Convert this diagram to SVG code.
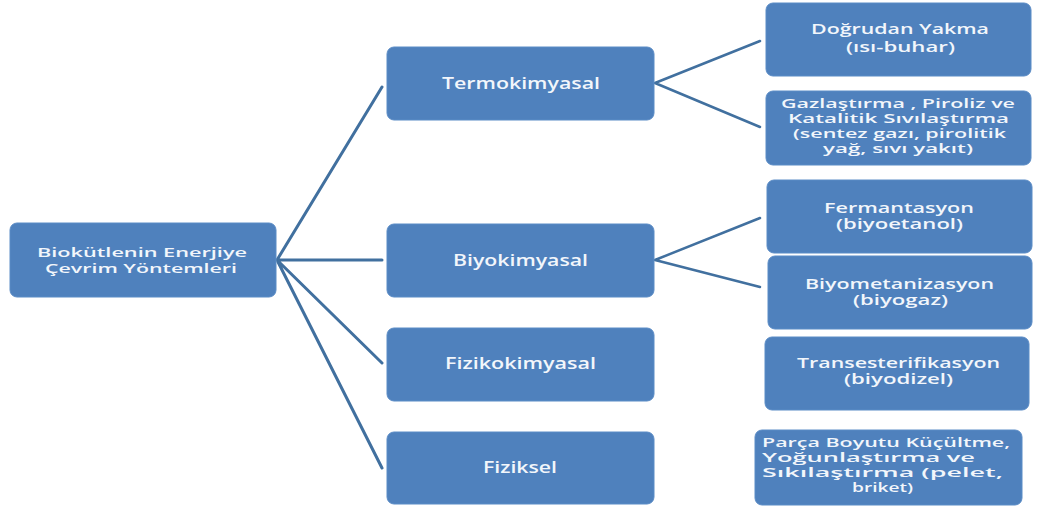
<svg xmlns="http://www.w3.org/2000/svg" width="1038" height="506" viewBox="0 0 1038 506">
<style>
.box{fill:#4F81BD;stroke:#5B8CC6;stroke-width:1}
.t{font-family:"Open Sans","Liberation Sans",sans-serif;font-weight:600;fill:#F2F6FB;font-size:14.5px}
.m{font-size:16px}
.s{font-size:13px}
.c{fill:none;stroke:#41709F;stroke-linecap:round}
</style>
<rect width="1038" height="506" fill="#FFFFFF"/>
<g id="connectors">
<path class="c" stroke-width="3" d="M277,260 L382,87 M277,260 L382,260 M277,260 L382,363 M277,260 L382,468"/>
<path class="c" stroke-width="2.5" d="M655,83 L760,41 M655,83 L760,127 M655,260 L760,218 M655,260 L760,287"/>
</g>
<g id="root">
<rect class="box" x="10" y="223" width="266" height="74" rx="7"/>
<text class="t s" x="37" y="257" textLength="210" lengthAdjust="spacingAndGlyphs">Biokütlenin Enerjiye</text>
<text class="t s" x="45" y="273" textLength="192" lengthAdjust="spacingAndGlyphs">Çevrim Yöntemleri</text>
</g>
<g id="termokimyasal">
<rect class="box" x="387" y="47" width="267" height="73" rx="7"/>
<text class="t m" x="442" y="89" textLength="158" lengthAdjust="spacingAndGlyphs">Termokimyasal</text>
</g>
<g id="biyokimyasal">
<rect class="box" x="387" y="224" width="267" height="73" rx="7"/>
<text class="t m" x="453" y="266" textLength="135" lengthAdjust="spacingAndGlyphs">Biyokimyasal</text>
</g>
<g id="fizikokimyasal">
<rect class="box" x="387" y="328" width="267" height="73" rx="7"/>
<text class="t m" x="445" y="369" textLength="151" lengthAdjust="spacingAndGlyphs">Fizikokimyasal</text>
</g>
<g id="fiziksel">
<rect class="box" x="387" y="432" width="267" height="72" rx="7"/>
<text class="t m" x="483" y="473" textLength="74" lengthAdjust="spacingAndGlyphs">Fiziksel</text>
</g>
<g id="dogrudan">
<rect class="box" x="766" y="3" width="265" height="73" rx="7"/>
<text class="t" x="811" y="34" textLength="178" lengthAdjust="spacingAndGlyphs">Doğrudan Yakma</text>
<text class="t" x="846" y="52" textLength="109" lengthAdjust="spacingAndGlyphs">(ısı-buhar)</text>
</g>
<g id="gazlastirma">
<rect class="box" x="766" y="91" width="265" height="74" rx="7"/>
<text class="t s" x="781" y="108" textLength="234" lengthAdjust="spacingAndGlyphs">Gazlaştırma , Piroliz ve</text>
<text class="t s" x="788" y="123" textLength="221" lengthAdjust="spacingAndGlyphs">Katalitik Sıvılaştırma</text>
<text class="t s" x="793" y="138" textLength="213" lengthAdjust="spacingAndGlyphs">(sentez gazı, pirolitik</text>
<text class="t s" x="823" y="153" textLength="150" lengthAdjust="spacingAndGlyphs">yağ, sıvı yakıt)</text>
</g>
<g id="fermantasyon">
<rect class="box" x="767" y="180" width="265" height="73" rx="7"/>
<text class="t" x="824" y="213" textLength="150" lengthAdjust="spacingAndGlyphs">Fermantasyon</text>
<text class="t" x="836" y="229" textLength="127" lengthAdjust="spacingAndGlyphs">(biyoetanol)</text>
</g>
<g id="biyometanizasyon">
<rect class="box" x="768" y="256" width="264" height="73" rx="7"/>
<text class="t" x="805" y="289" textLength="189" lengthAdjust="spacingAndGlyphs">Biyometanizasyon</text>
<text class="t" x="853" y="305" textLength="95" lengthAdjust="spacingAndGlyphs">(biyogaz)</text>
</g>
<g id="transesterifikasyon">
<rect class="box" x="765" y="337" width="264" height="73" rx="7"/>
<text class="t" x="797" y="368" textLength="203" lengthAdjust="spacingAndGlyphs">Transesterifikasyon</text>
<text class="t" x="844" y="384" textLength="109" lengthAdjust="spacingAndGlyphs">(biyodizel)</text>
</g>
<g id="parca">
<rect class="box" x="755" y="430" width="267" height="75" rx="7"/>
<text class="t s" x="762" y="447" textLength="248" lengthAdjust="spacingAndGlyphs">Parça Boyutu Küçültme,</text>
<text class="t s" x="762" y="462" textLength="213" lengthAdjust="spacingAndGlyphs">Yoğunlaştırma ve</text>
<text class="t s" x="762" y="477" textLength="241" lengthAdjust="spacingAndGlyphs">Sıkılaştırma (pelet,</text>
<text class="t s" x="852" y="492" textLength="61" lengthAdjust="spacingAndGlyphs">briket)</text>
</g>
</svg>
